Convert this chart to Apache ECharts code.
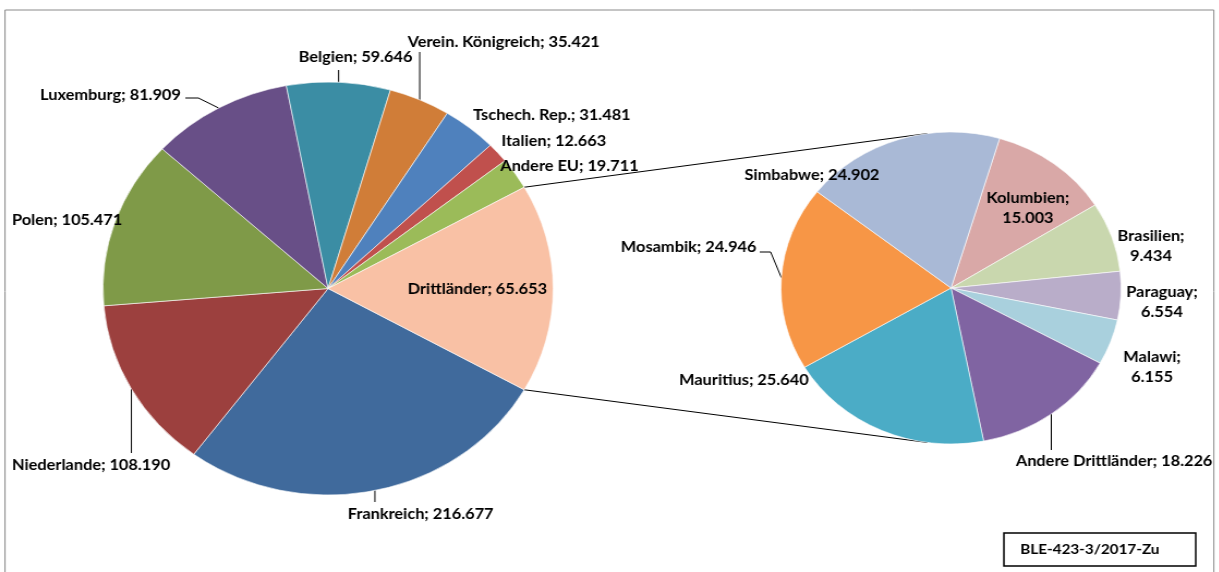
<!DOCTYPE html>
<html>
<head>
<meta charset="utf-8">
<script src="https://cdn.jsdelivr.net/npm/echarts@6/dist/echarts.min.js"></script>
<style>
  html, body { margin: 0; padding: 0; background: #fff; overflow: hidden; }
  #wrap { width: 1219px; height: 572px; overflow: hidden; }
  #chart { width: 1118px; height: 572px; transform: scaleX(1.09); transform-origin: 0 0; }
</style>
</head>
<body>
<div id="wrap"><div id="chart"></div></div>
<script>
// ---- data ----
const leftNames  = ['Frankreich', 'Niederlande', 'Polen', 'Luxemburg', 'Belgien',
                    'Verein. Königreich', 'Tschech. Rep.', 'Italien', 'Andere EU', 'Drittländer'];
const leftValues = [216.677, 108.190, 105.471, 81.909, 59.646, 35.421, 31.481, 12.663, 19.711, 65.653];

const rightNames  = ['Kolumbien', 'Brasilien', 'Paraguay', 'Malawi', 'Andere Drittländer',
                     'Mauritius', 'Mosambik', 'Simbabwe'];
const rightValues = [15.003, 9.434, 6.554, 6.155, 18.226, 25.640, 24.946, 24.902];

// names shown on two lines in the secondary pie
const twoLine = ['Kolumbien', 'Brasilien', 'Paraguay', 'Malawi'];

// ---- styling / layout ----
const leftColors  = ['#406a9c', '#9c403e', '#7f9a48', '#684f87', '#3b8da4',
                     '#d07d38', '#4f81bd', '#c0504d', '#9bbb59', '#f9c1a5'];
const rightColors = ['#d9a8a7', '#c9d7ae', '#b9adc9', '#a9d0dd', '#8064a2',
                     '#4bacc6', '#f79646', '#a9b9d6'];

const L = { cx: 301, cy: 288.5, r: 206.5 };
const R = { cx: 872.5, cy: 288, r: 156 };

// In a pie-of-pie the "other" slice is as large as the sum of the secondary pie
const drittIdx = leftNames.indexOf('Drittländer');
const secondSum = rightValues.reduce((a, b) => a + b, 0);
const leftSliceValues = leftValues.map((v, i) => i === drittIdx ? secondSum : v);
const leftTotal = leftSliceValues.reduce((a, b) => a + b, 0);
const halfDritt = secondSum / leftTotal * 180; // degrees

// label placement (layout only)
const leftLabelSpec = [
  { x: 319, y: 514, align: 'left', line: [[null, 502]] },                 // Frankreich
  { x: 11,  y: 465, align: 'left', line: [[null, 453]] },                 // Niederlande
  { x: 11,  y: 220, align: 'left' },                                      // Polen
  { x: 166, y: 95,  align: 'right', line: [[182, 98], [170, 98]] },       // Luxemburg
  { x: 274, y: 57,  align: 'left', line: [[null, 70]] },                  // Belgien
  { x: 374, y: 42,  align: 'left', line: [[null, 52]] },                  // VK
  { x: 434, y: 115, align: 'left' },                                      // Tschech
  { x: 460, y: 141, align: 'left' },                                      // Italien
  { x: 459, y: 166, align: 'left' },                                      // Andere EU
  { x: 374, y: 289, align: 'left' }                                       // Drittländer
];
const rightLabelSpec = [
  { x: 943,  y: 208, align: 'center' },                                   // Kolumbien
  { x: 1056, y: 246, align: 'center' },                                   // Brasilien
  { x: 1066, y: 302, align: 'center' },                                   // Paraguay
  { x: 1057, y: 367, align: 'center' },                                   // Malawi
  { x: 932,  y: 461, align: 'left', line: [[null, 450]] },                // Andere Drittländer
  { x: 623,  y: 380, align: 'left' },                                     // Mauritius
  { x: 694,  y: 247, align: 'right', line: [[707, 252], [697, 252]] },    // Mosambik
  { x: 683,  y: 175, align: 'left' }                                      // Simbabwe
];

function makeLayout(spec) {
  return function (params) {
    const s = spec[params.dataIndex];
    const res = { x: s.x, y: s.y, align: s.align, verticalAlign: 'middle' };
    const pts = params.labelLinePoints;
    if (s.line && pts && pts.length) {
      const e = pts[0];
      res.labelLinePoints = [[e[0], e[1]]].concat(
        s.line.map(p => [p[0] == null ? e[0] : p[0], p[1]]));
    }
    return res;
  };
}

const fmt = v => v.toFixed(3);
const font = { fontFamily: 'Lato', fontWeight: 'bold', fontSize: 15, color: '#000', lineHeight: 20 };

const leftData = leftNames.map((n, i) => ({
  name: n,
  value: leftSliceValues[i],
  itemStyle: { color: leftColors[i] },
  label: { formatter: n + '; ' + fmt(leftValues[i]) },
  labelLine: { show: !!leftLabelSpec[i].line }
}));
const rightData = rightNames.map((n, i) => ({
  name: n,
  value: rightValues[i],
  itemStyle: { color: rightColors[i] },
  label: { formatter: twoLine.includes(n) ? n + ';\n' + fmt(rightValues[i]) : n + '; ' + fmt(rightValues[i]) },
  labelLine: { show: !!rightLabelSpec[i].line }
}));

// connector lines between the "Drittländer" slice and the secondary pie
const rad = d => d * Math.PI / 180;
const lTop = [L.cx + L.r * Math.cos(rad(halfDritt)), L.cy - L.r * Math.sin(rad(halfDritt))];
const lBot = [L.cx + L.r * Math.cos(rad(halfDritt)), L.cy + L.r * Math.sin(rad(halfDritt))];
const rTop = [R.cx + R.r * Math.cos(rad(262)), R.cy + R.r * Math.sin(rad(262))];
const rBot = [R.cx + R.r * Math.cos(rad(98)), R.cy + R.r * Math.sin(rad(98))];

const chart = echarts.init(document.getElementById('chart'), null, { renderer: 'canvas' });
chart.setOption({
  animation: false,
  backgroundColor: '#fff',
  graphic: [
    { type: 'rect', shape: { x: 4.6, y: 10, width: 1109, height: 700 },
      style: { fill: 'none', stroke: '#8a8a8a', lineWidth: 1 }, z: 0 },
    { type: 'line', shape: { x1: lTop[0], y1: lTop[1], x2: rTop[0], y2: rTop[1] },
      style: { stroke: '#000', lineWidth: 1 }, z: 1 },
    { type: 'line', shape: { x1: lBot[0], y1: lBot[1], x2: rBot[0], y2: rBot[1] },
      style: { stroke: '#000', lineWidth: 1 }, z: 1 },
    { type: 'rect', shape: { x: 921, y: 533, width: 176, height: 33 },
      style: { fill: '#fff', stroke: '#000', lineWidth: 1.5 }, z: 5 },
    { type: 'text', x: 936, y: 549.5,
      style: { text: 'BLE-423-3/2017-Zu', font: 'bold 14px Lato', fill: '#000',
               textVerticalAlign: 'middle', verticalAlign: 'middle' }, z: 6 }
  ],
  series: [
    {
      type: 'pie',
      center: [L.cx, L.cy],
      radius: [0, L.r],
      startAngle: -halfDritt,
      clockwise: true,
      avoidLabelOverlap: false,
      itemStyle: { borderColor: '#fff', borderWidth: 0.6 },
      label: Object.assign({ show: true, position: 'outside' }, font),
      labelLine: { show: true, lineStyle: { color: '#000', width: 1 }, length: 10, length2: 10 },
      labelLayout: makeLayout(leftLabelSpec),
      emphasis: { disabled: true },
      data: leftData,
      z: 2
    },
    {
      type: 'pie',
      center: [R.cx, R.cy],
      radius: [0, R.r],
      startAngle: 73.4,
      clockwise: true,
      avoidLabelOverlap: false,
      itemStyle: { borderColor: '#fff', borderWidth: 0.6 },
      label: Object.assign({ show: true, position: 'outside' }, font),
      labelLine: { show: true, lineStyle: { color: '#000', width: 1 }, length: 10, length2: 10 },
      labelLayout: makeLayout(rightLabelSpec),
      emphasis: { disabled: true },
      data: rightData,
      z: 2
    }
  ]
});
</script>
</body>
</html>
